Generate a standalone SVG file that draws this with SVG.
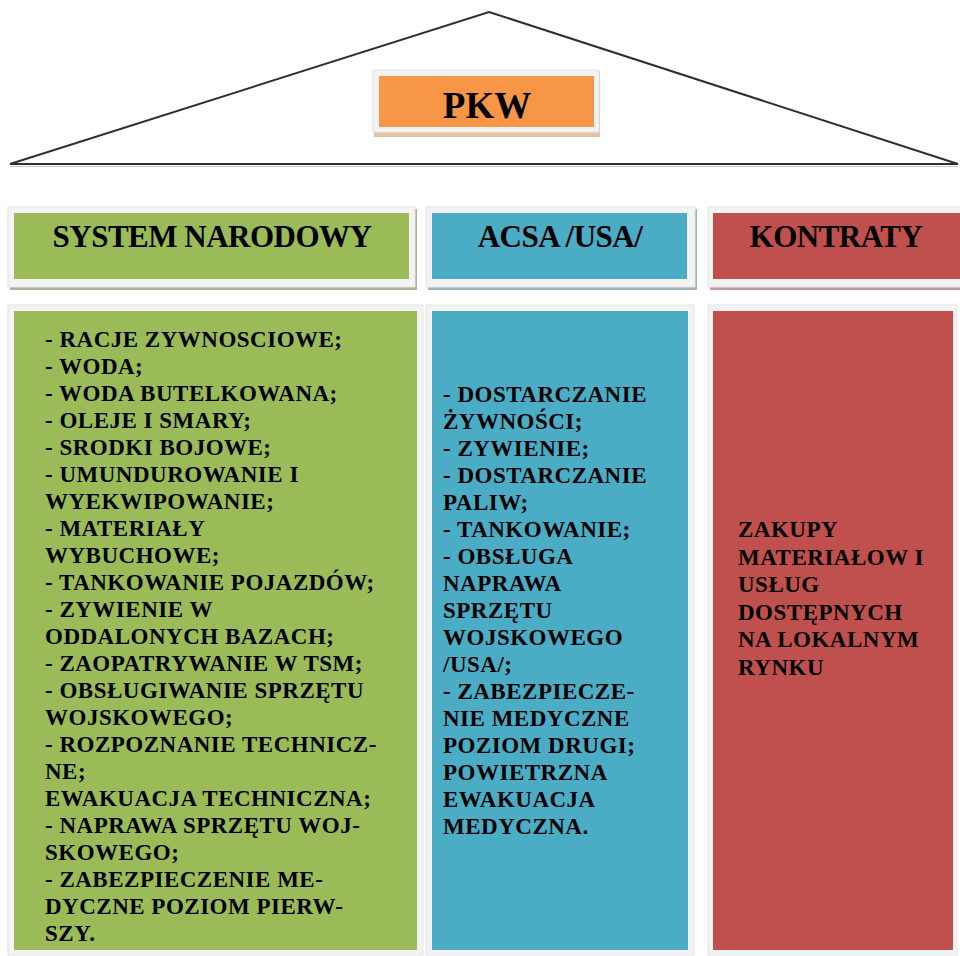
<svg xmlns="http://www.w3.org/2000/svg" width="960" height="956" viewBox="0 0 960 956">
<style>
.frame{fill:#f3f3f3;stroke:#e4e4e4;stroke-width:1}
.g{fill:#9bbb59}.b{fill:#4bacc6}.r{fill:#c0504d}.o{fill:#f79646}
.hd{font-family:"Liberation Serif","Times New Roman",serif;font-weight:bold;font-size:31px;letter-spacing:-0.5px;text-anchor:middle;fill:#000}
.bd{font-family:"Liberation Serif","Times New Roman",serif;font-weight:bold;font-size:23px;letter-spacing:0.5px;fill:#000}
</style>
<rect width="960" height="956" fill="#ffffff"/>
<g id="roof">
<polygon points="489,12 958,164 10,164" fill="#ffffff" stroke="#2e2e2e" stroke-width="2" stroke-linejoin="miter"/>
<line x1="10" y1="166.5" x2="958" y2="166.5" stroke="#c8c8c8" stroke-width="1"/>
</g>
<g id="pkw">
<rect x="374" y="71" width="226" height="66" fill="#e2c3a6"/>
<rect x="373" y="70" width="226" height="62" class="frame"/>
<rect x="379" y="76" width="215" height="51" class="o"/>
<text x="487" y="118" font-family="Liberation Serif, Times New Roman, serif" font-weight="bold" font-size="37" text-anchor="middle">PKW</text>
</g>
<g id="header-system-narodowy">
<rect x="10" y="209" width="407" height="81" fill="#a9b29b"/>
<rect x="8" y="207" width="407" height="80" class="frame"/>
<rect x="14" y="213" width="395" height="66" class="g"/>
<text x="212" y="247" class="hd">SYSTEM NARODOWY</text>
</g>
<g id="header-acsa">
<rect x="428" y="209" width="269" height="81" fill="#9cb3bb"/>
<rect x="426" y="207" width="269" height="80" class="frame"/>
<rect x="432" y="213" width="255" height="66" class="b"/>
<text x="560" y="247" class="hd">ACSA /USA/</text>
</g>
<g id="header-kontraty">
<rect x="710" y="209" width="260" height="81" fill="#c29b9b"/>
<rect x="708" y="207" width="260" height="80" class="frame"/>
<rect x="713" y="213" width="250" height="66" class="r"/>
<text x="836" y="247" class="hd">KONTRATY</text>
</g>
<g id="body-system-narodowy">
<rect x="8" y="305" width="415" height="650" class="frame"/>
<rect x="14" y="311" width="403" height="639" class="g"/>
<text class="bd">
<tspan x="45" y="347">- RACJE ZYWNOSCIOWE;</tspan>
<tspan x="45" dy="27">- WODA;</tspan>
<tspan x="45" dy="27">- WODA BUTELKOWANA;</tspan>
<tspan x="45" dy="27">- OLEJE I SMARY;</tspan>
<tspan x="45" dy="27">- SRODKI BOJOWE;</tspan>
<tspan x="45" dy="27">- UMUNDUROWANIE I</tspan>
<tspan x="45" dy="27">WYEKWIPOWANIE;</tspan>
<tspan x="45" dy="27">- MATERIAŁY</tspan>
<tspan x="45" dy="27">WYBUCHOWE;</tspan>
<tspan x="45" dy="27">- TANKOWANIE POJAZDÓW;</tspan>
<tspan x="45" dy="27">- ZYWIENIE W</tspan>
<tspan x="45" dy="27">ODDALONYCH BAZACH;</tspan>
<tspan x="45" dy="27">- ZAOPATRYWANIE W TSM;</tspan>
<tspan x="45" dy="27">- OBSŁUGIWANIE SPRZĘTU</tspan>
<tspan x="45" dy="27">WOJSKOWEGO;</tspan>
<tspan x="45" dy="27">- ROZPOZNANIE TECHNICZ-</tspan>
<tspan x="45" dy="27">NE;</tspan>
<tspan x="45" dy="27">EWAKUACJA TECHNICZNA;</tspan>
<tspan x="45" dy="27">- NAPRAWA SPRZĘTU WOJ-</tspan>
<tspan x="45" dy="27">SKOWEGO;</tspan>
<tspan x="45" dy="27">- ZABEZPIECZENIE ME-</tspan>
<tspan x="45" dy="27">DYCZNE POZIOM PIERW-</tspan>
<tspan x="45" dy="27">SZY.</tspan>
</text>
</g>
<g id="body-acsa">
<rect x="426" y="305" width="268" height="650" class="frame"/>
<rect x="432" y="311" width="256" height="639" class="b"/>
<text class="bd">
<tspan x="443" y="402">- DOSTARCZANIE</tspan>
<tspan x="443" dy="27">ŻYWNOŚCI;</tspan>
<tspan x="443" dy="27">- ZYWIENIE;</tspan>
<tspan x="443" dy="27">- DOSTARCZANIE</tspan>
<tspan x="443" dy="27">PALIW;</tspan>
<tspan x="443" dy="27">- TANKOWANIE;</tspan>
<tspan x="443" dy="27">- OBSŁUGA</tspan>
<tspan x="443" dy="27">NAPRAWA</tspan>
<tspan x="443" dy="27">SPRZĘTU</tspan>
<tspan x="443" dy="27">WOJSKOWEGO</tspan>
<tspan x="443" dy="27">/USA/;</tspan>
<tspan x="443" dy="27">- ZABEZPIECZE-</tspan>
<tspan x="443" dy="27">NIE MEDYCZNE</tspan>
<tspan x="443" dy="27">POZIOM DRUGI;</tspan>
<tspan x="443" dy="27">POWIETRZNA</tspan>
<tspan x="443" dy="27">EWAKUACJA</tspan>
<tspan x="443" dy="27">MEDYCZNA.</tspan>
</text>
</g>
<g id="body-kontraty">
<rect x="708" y="305" width="249" height="650" class="frame"/>
<rect x="713" y="311" width="240" height="639" class="r"/>
<text class="bd">
<tspan x="738" y="537">ZAKUPY</tspan>
<tspan x="738" dy="27.5">MATERIAŁOW I</tspan>
<tspan x="738" dy="27.5">USŁUG</tspan>
<tspan x="738" dy="27.5">DOSTĘPNYCH</tspan>
<tspan x="738" dy="27.5">NA LOKALNYM</tspan>
<tspan x="738" dy="27.5">RYNKU</tspan>
</text>
</g>
</svg>
